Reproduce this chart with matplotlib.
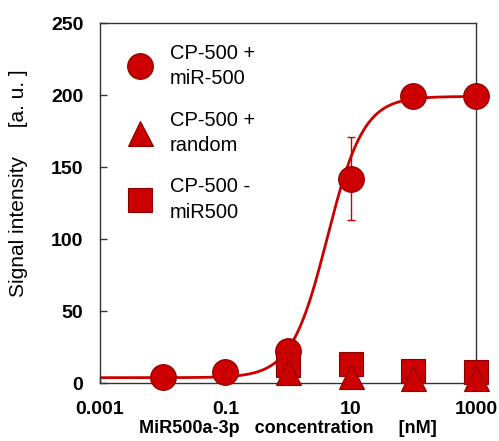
import numpy as np
import matplotlib
matplotlib.use("Agg")
import matplotlib.pyplot as plt

plt.rcParams['font.family'] = ['Liberation Sans', 'DejaVu Sans']

# ---- data ----
conc = [0.01, 0.1, 1, 10, 100, 1000]
mir500 = [4.0, 7.5, 22.0, 142.0, 199.0, 199.0]
mir500_err = [0, 0, 0, 29.0, 0, 0]

conc_ctrl = [1, 10, 100, 1000]
random_seq = [7.6, 4.7, 3.6, 3.4]
minus_mir = [12.6, 13.0, 8.5, 7.5]

# sigmoidal (Hill) fit parameters for the drawn curve
fit_bottom = 3.7
fit_top = 199.0
fit_ec50 = 4.26
fit_hill = 1.5

xticks = [0.001, 0.1, 10, 1000]
xticklabels = ['0.001', '0.1', '10', '1000']
yticks = [0, 50, 100, 150, 200, 250]

legend_labels = ['CP-500 +\nmiR-500', 'CP-500 +\nrandom', 'CP-500 -\nmiR500']

RED = '#cc0000'
EDGE = '#8a0000'

fig = plt.figure(figsize=(4.99, 4.41), dpi=100)
ax = fig.add_axes([100/499, 1-383/441, 376/499, 360/441])

xf = np.logspace(-3, 3, 400)
yf = fit_bottom + (fit_top - fit_bottom) / (1 + (fit_ec50 / xf) ** fit_hill)
ax.plot(xf, yf, color=RED, lw=2.0, zorder=2)

ax.errorbar(conc, mir500, yerr=mir500_err, fmt='none', ecolor=RED,
            elinewidth=1.0, capsize=3, capthick=1.0, zorder=2.5)

h1, = ax.plot(conc, mir500, 'o', ms=18.5, mfc=RED, mec=EDGE, mew=0.8,
              zorder=3, clip_on=False)
h3, = ax.plot(conc_ctrl, minus_mir, 's', ms=17, mfc=RED, mec=EDGE, mew=0.8,
              zorder=4, clip_on=False)
h2, = ax.plot(conc_ctrl, random_seq, '^', ms=18.0, mfc=RED, mec=EDGE, mew=0.8,
              zorder=5, clip_on=False)

ax.set_xscale('log')
ax.set_xlim(0.001, 1000)
ax.set_ylim(0, 250)
ax.set_xticks(xticks)
ax.set_xticklabels(xticklabels)
ax.xaxis.set_minor_locator(matplotlib.ticker.NullLocator())
ax.set_yticks(yticks)

ax.tick_params(axis='both', direction='in', length=5, width=1, color='#333333',
               labelsize=14)
ax.tick_params(axis='x', pad=13)
ax.tick_params(axis='y', pad=12)
for lab in ax.get_xticklabels() + ax.get_yticklabels():
    lab.set_fontweight('bold')

for s in ax.spines.values():
    s.set_color('#333333')
    s.set_linewidth(1.0)

ax.set_xlabel('MiR500a-3p   concentration     [nM]', fontsize=13, fontweight='bold')
ax.xaxis.set_label_coords(0.499, -0.127)
ax.xaxis.label.set_va('center')
ax.set_ylabel('Signal intensity     [a. u. ]', fontsize=15)
ax.yaxis.set_label_coords(-0.218, 0.554)
ax.yaxis.label.set_va('center')

leg = ax.legend([h1, h2, h3], legend_labels, loc='upper left',
                bbox_to_anchor=(0.02, 0.993), frameon=False, fontsize=14.5,
                handlelength=1.4, handletextpad=0.78, labelspacing=1.1,
                borderpad=0.4, numpoints=1)
for t in leg.get_texts():
    t.set_linespacing(1.45)

fig.savefig('out.png', dpi=100)
